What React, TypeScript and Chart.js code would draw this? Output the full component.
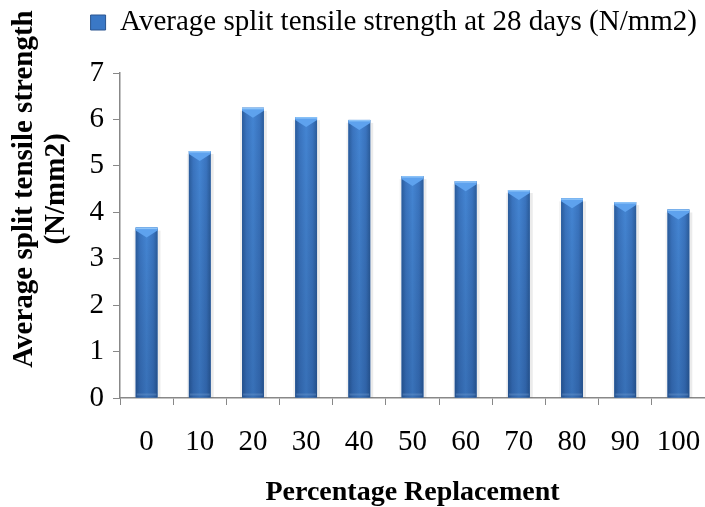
import React, { useEffect, useRef } from "react";
import { Chart, registerables } from "chart.js";

Chart.register(...registerables);

const categories = ["0", "10", "20", "30", "40", "50", "60", "70", "80", "90", "100"];
const strength = [3.67, 5.32, 6.25, 6.05, 5.99, 4.78, 4.67, 4.48, 4.30, 4.22, 4.06];
const seriesLabel = "Average split tensile strength at 28 days (N/mm2)";
const yTitleLines = ["Average split tensile strength", "(N/mm2)"];
const xTitle = "Percentage Replacement";

const FONT = "'Liberation Serif', 'Times New Roman', serif";
const FS = 29;

const barStylePlugin = {
  id: "barStyle",
  afterDatasetsDraw(chart: any) {
    const ctx = chart.ctx;
    const meta = chart.getDatasetMeta(0);
    ctx.save();
    meta.data.forEach((bar: any) => {
      const { x, y, base, width } = bar.getProps(["x", "y", "base", "width"], true);
      const l = x - width / 2;
      const r = x + width / 2;
      const h = base - y;
      ctx.fillStyle = "rgba(0,0,0,0.08)";
      ctx.fillRect(r, y + 3, 3, h - 3);
      ctx.fillStyle = "rgba(0,0,0,0.05)";
      ctx.fillRect(l - 2, y + 3, 2, h - 3);
      const g = ctx.createLinearGradient(l, 0, r, 0);
      g.addColorStop(0, "#2a5c9c");
      g.addColorStop(0.2, "#3a74bf");
      g.addColorStop(0.5, "#4485d3");
      g.addColorStop(0.8, "#3a74bf");
      g.addColorStop(1, "#2b5c9a");
      ctx.fillStyle = g;
      ctx.fillRect(l, y, width, h);
      const v = ctx.createLinearGradient(0, y, 0, base);
      v.addColorStop(0, "rgba(0,0,0,0)");
      v.addColorStop(1, "rgba(0,20,60,0.18)");
      ctx.fillStyle = v;
      ctx.fillRect(l, y, width, h);
      ctx.fillStyle = "rgba(120,160,210,0.35)";
      ctx.fillRect(l + 1, base - 4, width - 2, 2);
      ctx.fillStyle = "#5ea2ee";
      ctx.beginPath();
      ctx.moveTo(l, y);
      ctx.lineTo(r, y);
      ctx.lineTo(r, y + 3);
      ctx.lineTo(x, y + 10);
      ctx.lineTo(l, y + 3);
      ctx.closePath();
      ctx.fill();
      ctx.fillStyle = "#8ec4f8";
      ctx.fillRect(l, y, width, 1.5);
    });
    ctx.restore();
  },
};

const legendTopPlugin = {
  id: "legendTop",
  afterLayout(chart: any) {
    const lg = chart.legend;
    if (!lg) return;
    const d = lg.top;
    lg.top -= d;
    lg.bottom -= d;
    if (lg.legendHitBoxes) lg.legendHitBoxes.forEach((b: any) => (b.top -= d));
  },
};

const yTitlePlugin = {
  id: "yTitle",
  afterDraw(chart: any) {
    const ctx = chart.ctx;
    ctx.save();
    ctx.fillStyle = "#000";
    ctx.font = `bold ${FS}px ${FONT}`;
    ctx.textAlign = "center";
    ctx.textBaseline = "middle";
    const xs = [25, 57];
    yTitleLines.forEach((t, i) => {
      ctx.save();
      ctx.translate(xs[i], 189);
      ctx.rotate(-Math.PI / 2);
      ctx.fillText(t, 0, 0);
      ctx.restore();
    });
    ctx.restore();
  },
};

export default function App() {
  const ref = useRef<HTMLCanvasElement | null>(null);
  useEffect(() => {
    if (!ref.current) return;
    const chart = new Chart(ref.current, {
      type: "bar",
      data: {
        labels: categories,
        datasets: [
          {
            label: seriesLabel,
            data: strength,
            backgroundColor: "#3a74c0",
            borderWidth: 0,
            barPercentage: 0.41,
            categoryPercentage: 1,
          },
        ],
      },
      options: {
        responsive: false,
        animation: false,
        layout: { padding: { left: 70, right: 0, top: 0, bottom: 0 } },
        plugins: {
          tooltip: { enabled: false },
          legend: {
            display: true,
            position: "top",
            align: "end",
            labels: {
              font: { family: FONT, size: FS },
              color: "#000",
              boxWidth: 15,
              boxHeight: 15,
              padding: 8,
              generateLabels: () => [
                {
                  text: seriesLabel,
                  fillStyle: "#3a78c6",
                  strokeStyle: "#2a5590",
                  lineWidth: 1,
                  datasetIndex: 0,
                  hidden: false,
                },
              ],
            },
          },
        },
        scales: {
          x: {
            offset: true,
            grid: {
              offset: true,
              drawOnChartArea: false,
              drawTicks: true,
              tickLength: 7,
              color: "#888",
            },
            border: { color: "#888", width: 1.5 },
            ticks: { font: { family: FONT, size: FS }, color: "#000", padding: 20, maxRotation: 0 },
            title: {
              display: true,
              text: xTitle,
              font: { family: FONT, size: 28, weight: "bold", lineHeight: 1 },
              color: "#000",
              padding: { top: 10, bottom: 0 },
            },
            afterFit: (s: any) => {
              s.height = 109;
              s.paddingLeft = 0;
              s.paddingRight = 0;
            },
          },
          y: {
            min: 0,
            max: 7,
            ticks: { stepSize: 1, font: { family: FONT, size: FS }, color: "#000", padding: 9 },
            grid: { drawOnChartArea: false, drawTicks: true, tickLength: 7, color: "#888" },
            border: { color: "#888", width: 1.5 },
            afterFit: (s: any) => {
              s.width = 50;
              s.paddingTop = 73;
            },
          },
        },
      },
      plugins: [barStylePlugin, legendTopPlugin, yTitlePlugin],
    });
    return () => chart.destroy();
  }, []);
  return (
    <div style={{ position: "absolute", left: 0, top: 0, width: 705, height: 507, background: "#fff" }}>
      <canvas ref={ref} width={705} height={507} />
    </div>
  );
}
